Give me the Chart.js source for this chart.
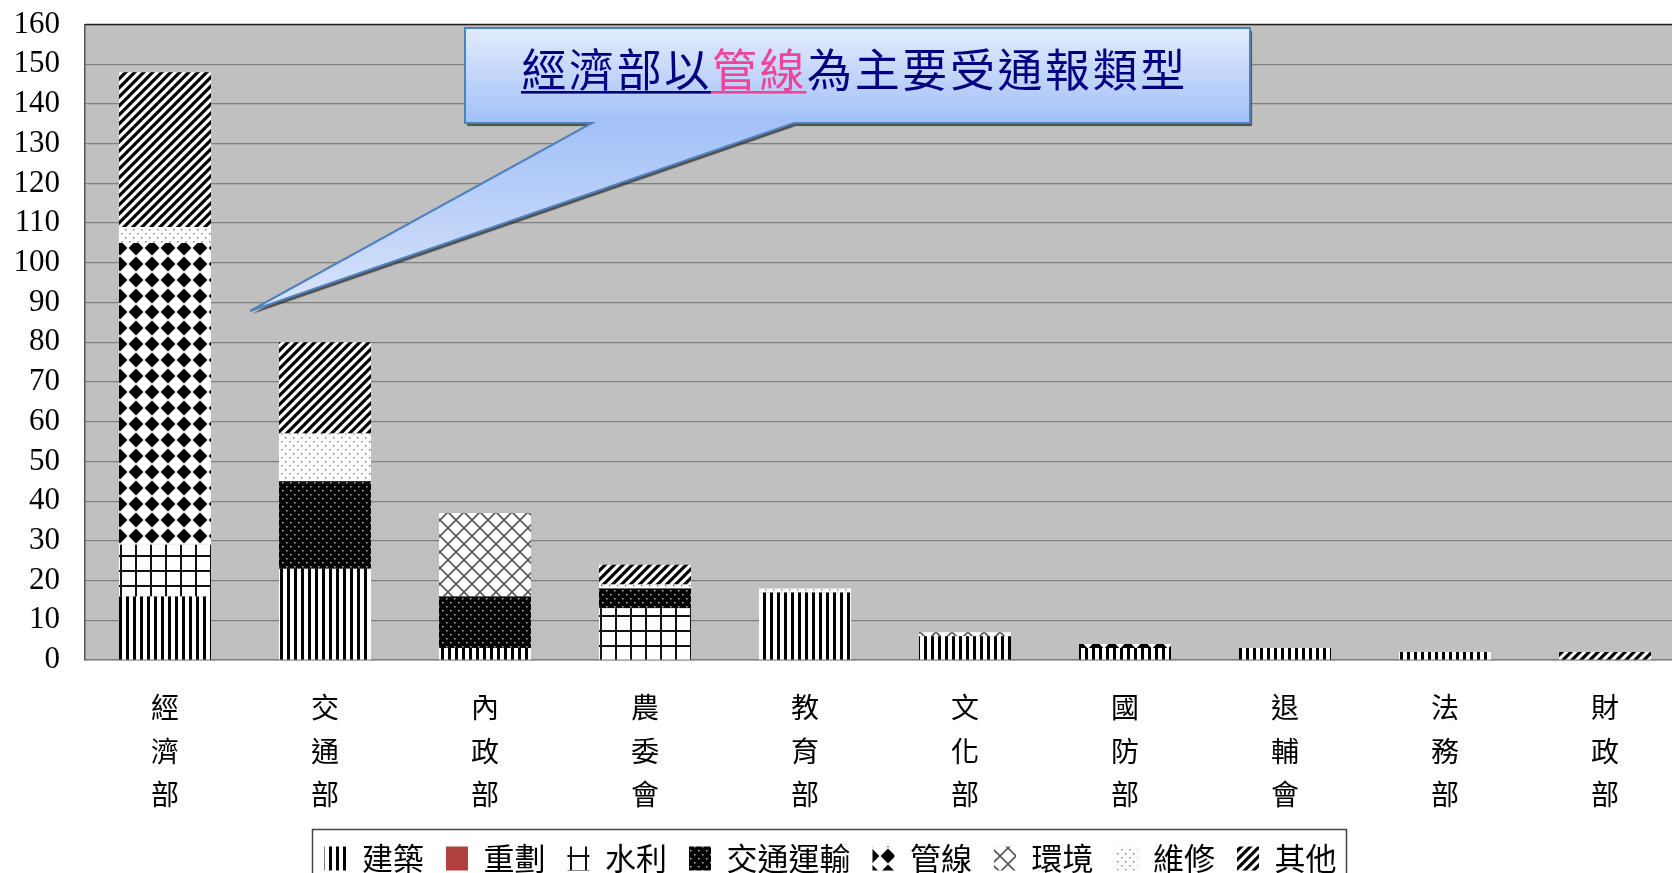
<!DOCTYPE html>
<html><head><meta charset="utf-8">
<script src="https://cdn.jsdelivr.net/npm/chart.js@4.4.1/dist/chart.umd.min.js"></script>
<style>
html,body{margin:0;padding:0;background:#fff;overflow:hidden;width:1672px;height:873px}
canvas{display:block}
</style></head>
<body>
<canvas id="c" width="1685" height="873" style="width:1685px;height:873px"></canvas>
<script>
// ---- data ----
const categories = ['經濟部','交通部','內政部','農委會','教育部','文化部','國防部','退輔會','法務部','財政部'];
const seriesNames = ['建築','重劃','水利','交通運輸','管線','環境','維修','其他'];
const jianzhu  = [16, 23,  3,  0, 17, 6, 3, 3, 2, 0];
const zhonghua = [ 0,  0,  0,  0,  0, 0, 0, 0, 0, 0];
const shuili   = [13,  0,  0, 13,  0, 0, 0, 0, 0, 0];
const jiaotong = [ 0, 22, 13,  5,  0, 0, 0, 0, 0, 0];
const guanxian = [76,  0,  0,  0,  0, 0, 1, 0, 0, 0];
const huanjing = [ 0,  0, 21,  0,  0, 1, 0, 0, 0, 0];
const weixiu   = [ 4, 12,  0,  1,  1, 0, 0, 0, 0, 0];
const qita     = [39, 23,  0,  5,  0, 0, 0, 0, 0, 2];
const yMin = 0, yMax = 160, yStep = 10;
const calloutText = '經濟部以管線為主要受通報類型';

// ---- patterns ----
function tile(w, h, draw) {
  const c = document.createElement('canvas'); c.width = w; c.height = h;
  const g = c.getContext('2d'); draw(g, w, h);
  return document.getElementById('c').getContext('2d').createPattern(c, 'repeat');
}
const pJianzhu = tile(7, 7, (g, w, h) => { g.fillStyle = '#fff'; g.fillRect(0,0,w,h); g.fillStyle = '#000'; g.fillRect(0,0,3,h); });
const pShuili = tile(15, 15, (g, w, h) => { g.fillStyle = '#fff'; g.fillRect(0,0,w,h); g.fillStyle = '#111'; g.fillRect(0,0,2,h); g.fillRect(0,0,w,2); });
const pJiaotong = tile(8, 8, (g, w, h) => { g.fillStyle = '#000'; g.fillRect(0,0,w,h); g.fillStyle = '#bbb'; g.fillRect(2,2,1.5,1.5); g.fillRect(6,6,1.5,1.5); });
const pGuanxian = tile(16, 16, (g, w, h) => {
  g.fillStyle = '#fff'; g.fillRect(0,0,w,h); g.fillStyle = '#000';
  g.beginPath(); g.moveTo(8,0.6); g.lineTo(15.4,8); g.lineTo(8,15.4); g.lineTo(0.6,8); g.closePath(); g.fill();
});
const pHuanjing = tile(16, 16, (g, w, h) => {
  g.fillStyle = '#fff'; g.fillRect(0,0,w,h); g.strokeStyle = '#555'; g.lineWidth = 1.6;
  g.beginPath();
  for (const c of [0, 16, 32]) { g.moveTo(-16, c+16); g.lineTo(c+16, -16); }
  for (const c of [-16, 0, 16]) { g.moveTo(-16, c-16); g.lineTo(32, c+32); }
  g.stroke();
});
const pWeixiu = tile(8, 8, (g, w, h) => { g.fillStyle = '#fff'; g.fillRect(0,0,w,h); g.fillStyle = '#888'; g.fillRect(1,1,1.5,1.5); g.fillRect(5,5,1.5,1.5); });
const pQita = tile(9, 9, (g, w, h) => {
  g.fillStyle = '#fff'; g.fillRect(0,0,w,h); g.strokeStyle = '#000'; g.lineWidth = 3.2;
  g.beginPath();
  for (const c of [0, 9, 18]) { g.moveTo(-9, c+9); g.lineTo(c+9, -9); }
  g.stroke();
});
const fills = [pJianzhu, '#B0413E', pShuili, pJiaotong, pGuanxian, pHuanjing, pWeixiu, pQita];
const values = [jianzhu, zhonghua, shuili, jiaotong, guanxian, huanjing, weixiu, qita];

const CJK = "'Noto Sans CJK TC','Noto Sans CJK SC',sans-serif";
const plotBottom = 660;

const bgPlugin = {
  id: 'plotBg',
  beforeDraw(chart) {
    const {ctx, chartArea: a} = chart;
    ctx.save(); ctx.fillStyle = '#C0C0C0'; ctx.fillRect(a.left, a.top, a.right - a.left, a.bottom - a.top); ctx.restore();
  },
  beforeDatasetsDraw(chart) {
    const {ctx, chartArea: a} = chart;
    ctx.save(); ctx.strokeStyle = '#222'; ctx.lineWidth = 1.5;
    ctx.beginPath(); ctx.moveTo(a.left, a.top); ctx.lineTo(a.right, a.top); ctx.stroke(); ctx.restore();
  },
  afterLayout(chart) {
    const lg = chart.legend;
    if (lg) { lg.left -= 12; lg.right -= 12; lg.top += 11; lg.bottom += 11; }
  },
  afterDraw(chart) {
    const {ctx} = chart;
    // legend frame
    const lg = chart.legend;
    if (lg && lg.legendHitBoxes && lg.legendHitBoxes.length) {
      const hb = lg.legendHitBoxes;
      const l = Math.min(...hb.map(b => b.left)) - 12;
      const r = Math.max(...hb.map(b => b.left + b.width)) + 10;
      ctx.save(); ctx.strokeStyle = '#444'; ctx.lineWidth = 1.5;
      ctx.strokeRect(l, 829.5, r - l, 60); ctx.restore();
    }
    // callout
    const a = chart.chartArea;
    const L = a.left + 380, R = a.left + 1165, T = 28, B = 123;
    const b1 = a.left + 507, b2 = a.left + 709, tx = a.left + 165, ty = 311;
    ctx.save();
    ctx.beginPath();
    ctx.moveTo(L, T); ctx.lineTo(R, T); ctx.lineTo(R, B); ctx.lineTo(b2, B); ctx.lineTo(tx, ty);
    ctx.lineTo(b1, B); ctx.lineTo(L, B); ctx.closePath();
    const gr = ctx.createLinearGradient(0, T, 0, ty);
    gr.addColorStop(0, '#E2EBFC'); gr.addColorStop(0.33, '#A3C1F8'); gr.addColorStop(1, '#D9E4FA');
    ctx.shadowColor = 'rgba(40,40,40,0.75)'; ctx.shadowOffsetX = 2; ctx.shadowOffsetY = 3; ctx.shadowBlur = 1;
    ctx.fillStyle = gr; ctx.fill();
    ctx.shadowColor = 'transparent';
    ctx.strokeStyle = '#4F81BD'; ctx.lineWidth = 2; ctx.stroke();
    // text
    ctx.font = '45px ' + CJK; ctx.textAlign = 'center'; ctx.textBaseline = 'alphabetic';
    const x0 = L + 79, pitch = 47.6;
    [...calloutText].forEach((ch, i) => {
      ctx.fillStyle = (i === 4 || i === 5) ? '#F0449A' : '#000080';
      ctx.fillText(ch, x0 + pitch * i, 87);
    });
    ctx.fillStyle = '#000080'; ctx.fillRect(L + 56, 91, 4 * pitch, 2.6);
    ctx.fillStyle = '#F0449A'; ctx.fillRect(L + 56 + 4 * pitch, 91, 2 * pitch, 2.6);
    ctx.restore();
  }
};

new Chart(document.getElementById('c'), {
  type: 'bar',
  data: {
    labels: categories.map(s => [...s]),
    datasets: seriesNames.map((n, i) => ({
      label: n, data: values[i], backgroundColor: fills[i], borderWidth: 0, stack: 's',
      barPercentage: 0.575, categoryPercentage: 1
    }))
  },
  options: {
    responsive: false, animation: false,
    layout: { padding: { top: 24.5, left: 0, right: 0, bottom: 0 } },
    plugins: {
      tooltip: { enabled: false },
      legend: {
        position: 'bottom',
        labels: { font: { family: CJK, size: 31 }, color: '#000', boxWidth: 22, boxHeight: 24, padding: 22 }
      }
    },
    scales: {
      x: {
        stacked: true,
        grid: { display: false, drawTicks: false },
        border: { color: '#808080', width: 1.5 },
        ticks: { font: { family: CJK, size: 28, lineHeight: 1.55 }, color: '#000', padding: 26, maxRotation: 0, autoSkip: false },
        afterFit(s) { const lh = s.chart.legend ? s.chart.legend.height : 45; s.height = 873 - plotBottom - lh; }
      },
      y: {
        stacked: true, min: yMin, max: yMax,
        grid: { color: '#808080', lineWidth: 1.2, drawTicks: true, tickLength: 25, tickColor: 'rgba(0,0,0,0)' },
        border: { color: '#555', width: 1.5 },
        ticks: { stepSize: yStep, autoSkip: false, font: { family: "'Liberation Serif','DejaVu Serif',serif", size: 31 }, color: '#000', padding: 0 },
        afterFit(s) { s.width = 85; }
      }
    }
  },
  plugins: [bgPlugin]
});
</script>
</body></html>
